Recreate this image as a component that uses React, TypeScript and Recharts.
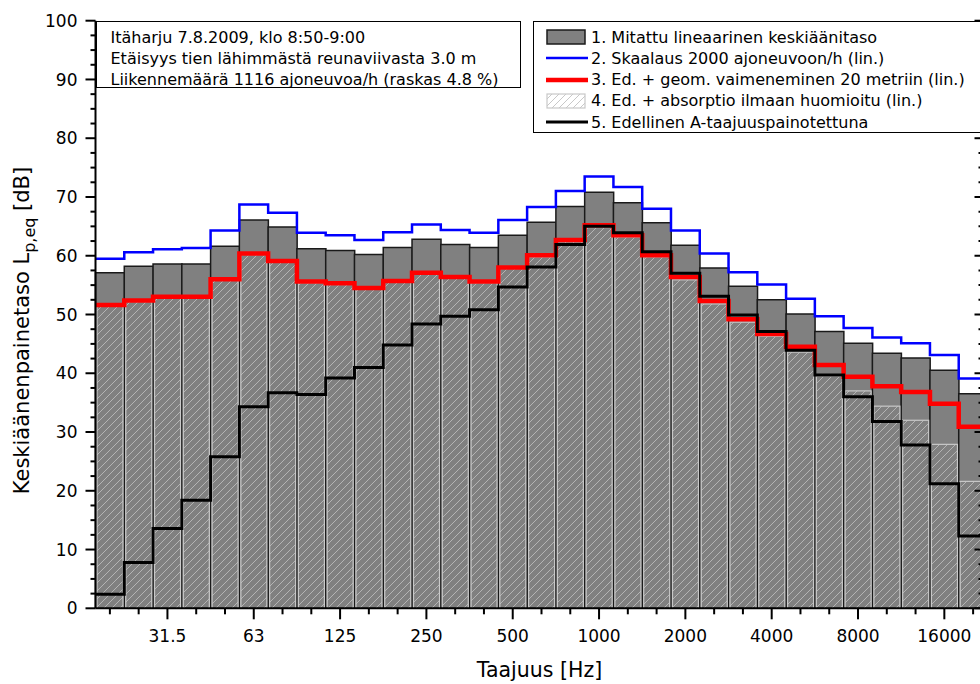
import React from 'react'
import { ComposedChart, Bar, Line, XAxis, YAxis, Legend, Label } from 'recharts'

// 1/3-octave bands, Hz
const bands = ['20', '25', '31.5', '40', '50', '63', '80', '100', '125', '160', '200', '250', '315', '400', '500', '630', '800', '1000', '1250', '1600', '2000', '2500', '3150', '4000', '5000', '6300', '8000', '10000', '12500', '16000', '20000']
const labelledBands = ['31.5', '63', '125', '250', '500', '1000', '2000', '4000', '8000', '16000']

const measured = [57.1, 58.2, 58.6, 58.6, 61.6, 66.1, 64.9, 61.2, 60.9, 60.2, 61.4, 62.8, 61.9, 61.4, 63.5, 65.7, 68.4, 70.8, 69.0, 65.6, 61.8, 57.9, 54.8, 52.5, 50.1, 47.1, 45.1, 43.4, 42.6, 40.5, 36.5]
const scaled = [59.5, 60.6, 61.1, 61.3, 64.3, 68.7, 67.3, 63.9, 63.5, 62.7, 64.0, 65.3, 64.4, 63.9, 66.1, 68.3, 71.0, 73.5, 71.7, 68.0, 64.3, 60.4, 57.2, 55.1, 52.7, 49.7, 47.7, 46.1, 45.1, 43.1, 39.1]
const geomDamped = [51.6, 52.4, 53.0, 53.0, 56.0, 60.4, 59.1, 55.6, 55.3, 54.5, 55.7, 57.1, 56.4, 55.6, 58.0, 60.1, 62.7, 65.2, 63.5, 60.1, 56.4, 52.3, 49.2, 46.7, 44.5, 41.4, 39.4, 37.8, 36.8, 34.8, 30.9]
const airAbsorbed = [51.4, 52.2, 52.8, 52.8, 55.8, 60.2, 58.9, 55.4, 55.1, 54.3, 55.5, 56.9, 56.2, 55.4, 57.8, 59.8, 62.4, 64.8, 63.2, 59.8, 55.9, 51.8, 48.7, 46.3, 43.6, 39.5, 37.0, 34.4, 32.0, 27.9, 21.6]
const aWeighted = [2.4, 7.8, 13.6, 18.4, 25.8, 34.3, 36.7, 36.4, 39.2, 41.0, 44.8, 48.4, 49.7, 50.8, 54.7, 58.1, 61.9, 65.0, 63.9, 60.7, 57.0, 53.1, 49.9, 47.1, 43.9, 39.7, 36.0, 31.8, 27.8, 21.2, 12.3]

const yTicks = Array.from({ length: 41 }, (_, i) => i * 2.5)

const infoLines = [
  'Itäharju 7.8.2009, klo 8:50-9:00',
  'Etäisyys tien lähimmästä reunaviivasta 3.0 m',
  'Liikennemäärä 1116 ajoneuvoa/h (raskas 4.8 %)',
]
const seriesNames = [
  '1. Mitattu lineaarinen keskiäänitaso',
  '2. Skaalaus 2000 ajoneuvoon/h (lin.)',
  '3. Ed. + geom. vaimeneminen 20 metriin (lin.)',
  '4. Ed. + absorptio ilmaan huomioitu (lin.)',
  '5. Edellinen A-taajuuspainotettuna',
]

const barRows = bands.map((band, i) => ({ band, measured: measured[i], absorbed: airAbsorbed[i] }))
// step lines run over band edges 0..N, last value repeated to close the final band
const stepRows = Array.from({ length: bands.length + 1 }, (_, i) => {
  const k = Math.min(i, bands.length - 1)
  return { edge: i, scaled: scaled[k], damped: geomDamped[k], weighted: aWeighted[k] }
})

const LeftTick = (p: any) => {
  const major = p.payload.value % 10 === 0
  return (
    <g>
      <line x1={p.x - (major ? 10 : 5)} x2={p.x} y1={p.y} y2={p.y} stroke="#000" strokeWidth={2} />
      {major && (
        <text x={p.x - 18} y={p.y} dy="0.36em" textAnchor="end" fontSize={17} fill="#000">
          {p.payload.value}
        </text>
      )}
    </g>
  )
}

const RightTick = (p: any) => {
  const major = p.payload.value % 10 === 0
  return <line x1={p.x - (major ? 13 : 9)} x2={p.x} y1={p.y} y2={p.y} stroke="#000" strokeWidth={2} />
}

const BandTick = (p: any) => {
  const major = labelledBands.includes(p.payload.value)
  return (
    <g>
      <line x1={p.x} x2={p.x} y1={p.y} y2={p.y + (major ? 11 : 6)} stroke="#000" strokeWidth={2} />
      {major && (
        <text x={p.x} y={p.y + 28} dy="0.36em" textAnchor="middle" fontSize={17} fill="#000">
          {p.payload.value}
        </text>
      )}
    </g>
  )
}

const HatchShape = (p: any) => {
  if (!p.height || p.height <= 0) return null
  return (
    <rect
      x={p.x + 1.5}
      y={p.y}
      width={Math.max(p.width - 3, 0)}
      height={p.height}
      fill="url(#hatch)"
      stroke="#c8c8c8"
      strokeWidth={1.2}
    />
  )
}

const XTitle = (p: any) => {
  const vb = p.viewBox
  return (
    <text x={vb.x + vb.width / 2 - 2} y={vb.y + 69} textAnchor="middle" fontSize={20.5} fill="#000">
      Taajuus [Hz]
    </text>
  )
}

const YTitle = (p: any) => {
  const vb = p.viewBox
  return (
    <text transform={`translate(${vb.x + 29},${vb.y + vb.height / 2 + 16}) rotate(-90)`} textAnchor="middle" fontSize={21} fill="#000">
      <tspan>Keskiäänenpainetaso L</tspan>
      <tspan dy={6} fontSize={16}>p,eq</tspan>
      <tspan dy={-6}> [dB]</tspan>
    </text>
  )
}

const LegendBox = () => (
  <div
    style={{
      width: 470,
      height: 112,
      boxSizing: 'border-box',
      border: '1px solid #000',
      background: '#fff',
      padding: '5px 0 0 12px',
      fontSize: 16,
      color: '#000',
    }}
  >
    {seriesNames.map((name, i) => (
      <div key={name} style={{ display: 'flex', alignItems: 'center', height: 21.2, whiteSpace: 'nowrap' }}>
        <svg width={44} height={16} style={{ flex: 'none' }}>
          {i === 0 && <rect x={1} y={1} width={38} height={14} fill="#808080" stroke="#1a1a1a" strokeWidth={1.5} />}
          {i === 1 && <line x1={0} x2={42} y1={8} y2={8} stroke="#0000ff" strokeWidth={2.5} />}
          {i === 2 && <line x1={0} x2={42} y1={8} y2={8} stroke="#ff0000" strokeWidth={4.5} />}
          {i === 3 && <rect x={1} y={1} width={38} height={14} fill="url(#hatchLight)" stroke="#c8c8c8" strokeWidth={1.2} />}
          {i === 4 && <line x1={0} x2={42} y1={8} y2={8} stroke="#000" strokeWidth={3} />}
        </svg>
        <span style={{ marginLeft: 1 }}>{name}</span>
      </div>
    ))}
  </div>
)

export default function App() {
  return (
    <div
      style={{
        position: 'absolute',
        left: 0,
        top: 0,
        width: 980,
        height: 684,
        overflow: 'hidden',
        background: '#fff',
        fontFamily: '"DejaVu Sans", Verdana, sans-serif',
      }}
    >
      <svg width={0} height={0} style={{ position: 'absolute' }}>
        <defs>
          <pattern id="hatchLight" patternUnits="userSpaceOnUse" width={7} height={7}>
            <path d="M0,7 L7,0 M-1,1 L1,-1 M6,8 L8,6" stroke="#c8c8c8" strokeWidth={1} />
          </pattern>
        </defs>
      </svg>
      <ComposedChart
        width={1000}
        height={684}
        data={barRows}
        margin={{ top: 20.7, right: 11.5, bottom: 0, left: 0 }}
        barCategoryGap={0}
        barGap={0}
      >
        <defs>
          <pattern id="hatch" patternUnits="userSpaceOnUse" width={8} height={8}>
            <path d="M0,8 L8,0 M-1,1 L1,-1 M7,9 L9,7" stroke="#b4b4b4" strokeWidth={1} />
          </pattern>
        </defs>
        <XAxis
          xAxisId="band"
          dataKey="band"
          interval={0}
          height={75.7}
          tickSize={0}
          tickMargin={0}
          tickLine={false}
          tick={(p: any) => <BandTick {...p} />}
          stroke="#000"
          strokeWidth={2}
        >
          <Label content={XTitle} />
        </XAxis>
        <XAxis xAxisId="band2" dataKey="band" hide />
        <XAxis xAxisId="edge" type="number" dataKey="edge" domain={[0, bands.length]} allowDataOverflow hide />
        <YAxis
          yAxisId="l"
          domain={[0, 100]}
          ticks={yTicks}
          interval={0}
          width={95.5}
          tickSize={0}
          tickMargin={0}
          tickLine={false}
          tick={(p: any) => <LeftTick {...p} />}
          stroke="#000"
          strokeWidth={2}
          allowDataOverflow
        >
          <Label content={YTitle} />
        </YAxis>
        <YAxis
          yAxisId="r"
          orientation="right"
          domain={[0, 100]}
          ticks={yTicks}
          interval={0}
          width={1}
          tickSize={0}
          tickMargin={0}
          tickLine={false}
          axisLine={false}
          tick={(p: any) => <RightTick {...p} />}
          allowDataOverflow
        />
        <Bar xAxisId="band" yAxisId="l" dataKey="measured" fill="#808080" stroke="#1a1a1a" strokeWidth={1.5} isAnimationActive={false} />
        <Bar xAxisId="band2" yAxisId="l" dataKey="absorbed" shape={HatchShape} isAnimationActive={false} />
        <Line xAxisId="edge" yAxisId="l" data={stepRows} dataKey="scaled" type="stepAfter" stroke="#0000ff" strokeWidth={2.5} dot={false} activeDot={false} isAnimationActive={false} />
        <Line xAxisId="edge" yAxisId="l" data={stepRows} dataKey="damped" type="stepAfter" stroke="#ff0000" strokeWidth={4.5} dot={false} activeDot={false} isAnimationActive={false} />
        <Line xAxisId="edge" yAxisId="r" data={stepRows} dataKey="weighted" type="stepAfter" stroke="#000" strokeWidth={3} dot={false} activeDot={false} isAnimationActive={false} />
        <Legend
          verticalAlign="middle"
          align="center"
          layout="horizontal"
          wrapperStyle={{ left: 533, top: 20.7, width: 470, height: 112 }}
          content={() => <LegendBox />}
        />
      </ComposedChart>
      <div
        style={{
          position: 'absolute',
          left: 95.5,
          top: 20.7,
          width: 425,
          height: 67,
          boxSizing: 'border-box',
          border: '1px solid #000',
          background: '#fff',
          padding: '5px 0 0 14px',
          fontSize: 16,
          color: '#000',
        }}
      >
        {infoLines.map((t) => (
          <div key={t} style={{ height: 21, lineHeight: '21px', whiteSpace: 'nowrap' }}>
            {t}
          </div>
        ))}
      </div>
    </div>
  )
}
